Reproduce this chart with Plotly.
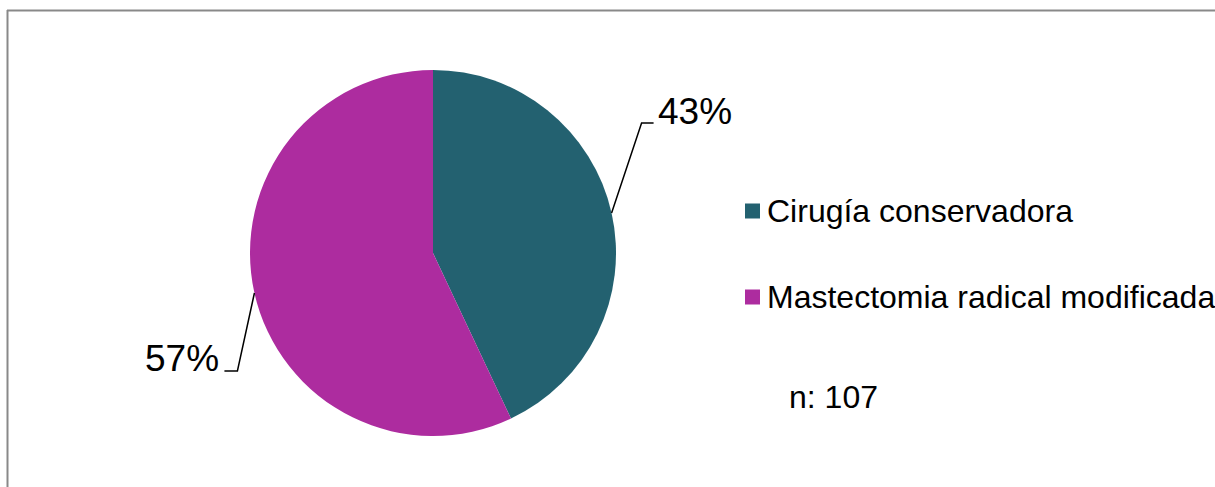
import math
import plotly.graph_objects as go

# Data
categories = ["Cirugía conservadora", "Mastectomia radical modificada"]
counts = [46, 61]
colors = ["#236170", "#AD2C9F"]
n_label = "n: 107"

W, H = 1215, 487
FONT = "Liberation Sans, Arial, sans-serif"

# Pie placement in pixels (square domain -> radius = half side)
pie_left, pie_top, pie_size = 250, 70, 366
cx = pie_left + pie_size / 2
cy = pie_top + pie_size / 2
R = pie_size / 2


def px(x):
    return x / W


def py(y):
    return 1 - y / H


fig = go.Figure(
    go.Pie(
        labels=categories,
        values=counts,
        marker=dict(colors=colors, line=dict(width=0)),
        sort=False,
        direction="clockwise",
        rotation=0,
        textinfo="none",
        hoverinfo="label+percent",
        showlegend=False,
        domain=dict(
            x=[px(pie_left), px(pie_left + pie_size)],
            y=[py(pie_top + pie_size), py(pie_top)],
        ),
    )
)

shapes = []
annotations = []

# Percent labels with elbow leader lines, placed from slice mid-angles
total = sum(counts)
cum = 0
for i, v in enumerate(counts):
    frac = v / total
    mid = (cum + frac / 2) * 2 * math.pi
    cum += frac
    ax = cx + R * math.sin(mid)
    ay = cy - R * math.cos(mid)
    pct = f"{round(frac * 100)}%"
    if math.sin(mid) >= 0:
        ex, ey = ax + 30, ay - 90
        hx = ex + 12
        tx, anchor = hx + 2, "left"
    else:
        ex, ey = ax - 17, ay + 78
        hx = ex - 13
        tx, anchor = hx - 3, "right"
    shapes.append(dict(type="path", xref="paper", yref="paper",
                       path=f"M {px(ax)},{py(ay)} L {px(ex)},{py(ey)} L {px(hx)},{py(ey)}",
                       line=dict(color="#000000", width=1.5)))
    annotations.append(dict(x=px(tx), y=py(ey - 12), xref="paper", yref="paper",
                            text=pct, showarrow=False, xanchor=anchor, yanchor="middle",
                            font=dict(family=FONT, size=37, color="#000000")))

# Legend drawn as squares with labels
leg_x, leg_y0, leg_step, sq = 745, 211, 86, 15
for i, (cat, col) in enumerate(zip(categories, colors)):
    yc = leg_y0 + i * leg_step
    shapes.append(dict(type="rect", xref="paper", yref="paper",
                       x0=px(leg_x), x1=px(leg_x + sq),
                       y0=py(yc + sq / 2), y1=py(yc - sq / 2),
                       fillcolor=col, line=dict(width=0)))
    annotations.append(dict(x=px(leg_x + sq + 5), y=py(yc), xref="paper", yref="paper",
                            text=cat, showarrow=False, xanchor="left", yanchor="middle",
                            font=dict(family=FONT, size=32, color="#000000")))

annotations.append(dict(x=px(787), y=py(397), xref="paper", yref="paper",
                        text=n_label, showarrow=False, xanchor="left", yanchor="middle",
                        font=dict(family=FONT, size=32, color="#000000")))

# Chart frame (top and left edges visible)
shapes.append(dict(type="line", xref="paper", yref="paper",
                   x0=px(7), x1=px(W + 5), y0=py(10.5), y1=py(10.5),
                   line=dict(color="#898989", width=2)))
shapes.append(dict(type="line", xref="paper", yref="paper",
                   x0=px(7.5), x1=px(7.5), y0=py(10), y1=py(H + 5),
                   line=dict(color="#898989", width=2)))

fig.update_layout(
    width=W, height=H,
    margin=dict(l=0, r=0, t=0, b=0),
    paper_bgcolor="#FFFFFF",
    plot_bgcolor="#FFFFFF",
    shapes=shapes,
    annotations=annotations,
    font=dict(family=FONT),
)

fig.write_html("out.html")
